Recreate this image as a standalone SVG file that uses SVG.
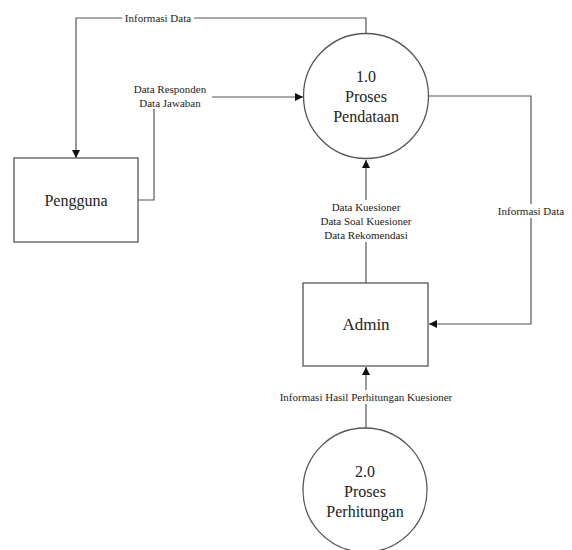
<svg xmlns="http://www.w3.org/2000/svg" width="572" height="550" viewBox="0 0 572 550">
<style>
.ln{fill:none;stroke:#555;stroke-width:1.2}
.box{fill:#fff;stroke:#555;stroke-width:1.3}
.nt{font-size:16px;fill:#222;text-anchor:middle}
.lb{font-size:11px;fill:#222;text-anchor:middle}
.bg{fill:#fff}
</style>
<defs>
<marker id="ah" viewBox="0 0 10 10" refX="10" refY="5" markerWidth="9" markerHeight="8" markerUnits="userSpaceOnUse" orient="auto">
<path d="M0,0 L10,5 L0,10 z" fill="#111"/>
</marker>
</defs>
<rect width="572" height="550" fill="#fff"/>
<g font-family="Liberation Serif, DejaVu Serif, serif">
<g id="connectors">
<path class="ln" d="M366,33 V18 H76 V158" marker-end="url(#ah)"/>
<path class="ln" d="M138,200 H154 V97 H303" marker-end="url(#ah)"/>
<path class="ln" d="M428,96 H531 V324 H429" marker-end="url(#ah)"/>
<path class="ln" d="M366,283 V160" marker-end="url(#ah)"/>
<path class="ln" d="M366,428 V367" marker-end="url(#ah)"/>
<rect class="bg" x="122" y="11" width="72" height="14"/>
<text class="lb" x="158" y="22">Informasi Data</text>
<rect class="bg" x="128" y="81" width="84" height="28"/>
<text class="lb" x="170" y="93">Data Responden</text>
<text class="lb" x="170" y="107">Data Jawaban</text>
<rect class="bg" x="317" y="200" width="98" height="42"/>
<text class="lb" x="366" y="211">Data Kuesioner</text>
<text class="lb" x="366" y="225">Data Soal Kuesioner</text>
<text class="lb" x="366" y="239">Data Rekomendasi</text>
<rect class="bg" x="495" y="204" width="72" height="14"/>
<text class="lb" x="531" y="215">Informasi Data</text>
<rect class="bg" x="274" y="390" width="184" height="14"/>
<text class="lb" x="366" y="401">Informasi Hasil Perhitungan Kuesioner</text>
</g>
<g id="proses1">
<circle class="box" cx="366" cy="96" r="62.5"/>
<text class="nt" x="366" y="82">1.0</text>
<text class="nt" x="366" y="102">Proses</text>
<text class="nt" x="366" y="122">Pendataan</text>
</g>
<g id="pengguna">
<rect class="box" x="14" y="158" width="124" height="84"/>
<text class="nt" x="76" y="206">Pengguna</text>
</g>
<g id="admin">
<rect class="box" x="303" y="283" width="125" height="83"/>
<text class="nt" x="366" y="330" style="font-size:17px">Admin</text>
</g>
<g id="proses2">
<circle class="box" cx="365" cy="490" r="62"/>
<text class="nt" x="365" y="477">2.0</text>
<text class="nt" x="365" y="497">Proses</text>
<text class="nt" x="365" y="517">Perhitungan</text>
</g>
</g>
</svg>
